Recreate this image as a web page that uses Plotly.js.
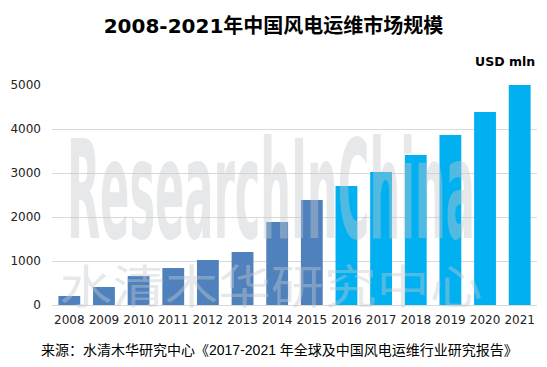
<!DOCTYPE html>
<html><head><meta charset="utf-8">
<script src="https://cdn.plot.ly/plotly-3.0.1.min.js"></script>
<style>html,body{margin:0;padding:0;background:#fff}#chart{width:547px;height:367px}</style>
</head><body><div id="chart"></div>
<script>
const years = ['2008','2009','2010','2011','2012','2013','2014','2015','2016','2017','2018','2019','2020','2021'];
const values = [205, 410, 660, 840, 1025, 1205, 1885, 2385, 2705, 3025, 3410, 3865, 4385, 5000];
const histColor = '#4F81BD';
const forecastColor = '#00B0F0';
const firstForecastYear = 2016;
const colors = years.map(y => (+y < firstForecastYear ? histColor : forecastColor));

const font = 'Arial, "Liberation Sans", "Noto Sans CJK SC", sans-serif';
const tickFont = '"DejaVu Sans", Verdana, "Noto Sans CJK SC", sans-serif';
const wmColor = 'rgba(195,200,206,0.42)';
const data = [{
  type: 'bar', x: years, y: values,
  marker: {color: colors},
  hoverinfo: 'x+y'
}];
const layout = {
  width: 547, height: 367,
  margin: {l: 52, r: 10, t: 85, b: 62},
  paper_bgcolor: '#fff', plot_bgcolor: '#fff',
  bargap: 0.37,
  showlegend: false,
  title: {text: '<b>2008-2021年中国风电运维市场规模</b>', x: 0.5, xanchor: 'center', y: 0.93, yanchor: 'middle',
    font: {family: tickFont, size: 20, color: '#000'}},
  xaxis: {type: 'category', tickfont: {family: tickFont, size: 12, color: '#222'}, showgrid: false,
    showline: true, linecolor: '#d9d9d9', ticks: '', ticklen: 0, ticklabelstandoff: 4},
  yaxis: {range: [0, 5000], tickvals: [0,1000,2000,3000,4000,5000], tickfont: {family: tickFont, size: 12, color: '#222'},
    gridcolor: '#d9d9d9', zeroline: false, showline: false, ticks: '', ticklabelstandoff: 10},
  annotations: [
    {text: 'ResearchInChina', xref: 'paper', yref: 'paper', x: 0.4515, y: 0.52, xanchor: 'center', yanchor: 'middle',
     showarrow: false, font: {family: '"DejaVu Sans Condensed", "DejaVu Sans", sans-serif', weight: 'bold', size: 138, color: wmColor}},
    {text: '水清木华研究中心', xref: 'paper', yref: 'paper', x: 0.4515, y: 0.1, xanchor: 'center', yanchor: 'middle',
     showarrow: false, font: {family: '"Noto Sans CJK SC", sans-serif', size: 46, color: wmColor}},
    {text: '<b>USD mln</b>', xref: 'paper', yref: 'paper', x: 1, y: 1, xanchor: 'right', yanchor: 'bottom', yshift: 14,
     showarrow: false, font: {family: tickFont, size: 12.5, color: '#000'}},
    {text: '来源：水清木华研究中心《2017-2021 年全球及中国风电运维行业研究报告》', xref: 'paper', yref: 'paper', x: 0.469, y: 0, yshift: -45,
     xanchor: 'center', yanchor: 'middle', showarrow: false, font: {family: font, size: 14, color: '#000'}}
  ]
};
Plotly.newPlot('chart', data, layout, {displayModeBar: false, staticPlot: true}).then(() => {
  const fit = {'ResearchInChina': 408, '水清木华研究中心': 423};
  document.querySelectorAll('#chart .annotation-text').forEach(t => {
    const w = fit[t.textContent];
    if (w) { t.setAttribute('textLength', w); t.setAttribute('lengthAdjust', 'spacingAndGlyphs'); }
  });
});
</script></body></html>
